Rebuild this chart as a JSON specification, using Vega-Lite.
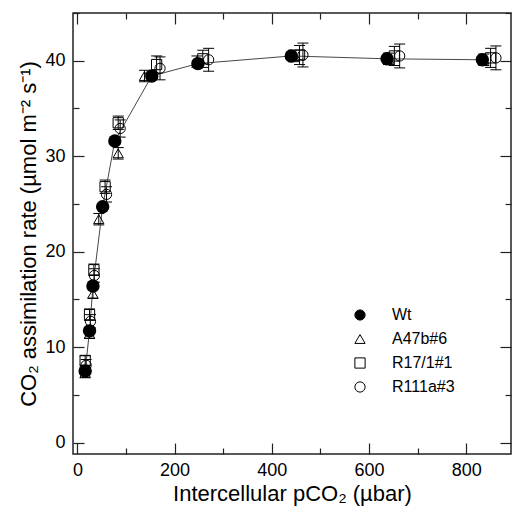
{
  "$schema": "https://vega.github.io/schema/vega-lite/v6.json",
  "width": 438,
  "height": 441,
  "autosize": "none",
  "padding": {"left": 73, "top": 13, "right": 2, "bottom": 60},
  "background": "white",
  "config": {
    "font": "Liberation Sans",
    "view": {"stroke": "#222", "strokeWidth": 1.5},
    "axis": {"grid": false, "domain": false, "tickColor": "#222", "tickWidth": 1.2, "labelColor": "black", "titleColor": "black", "titleFontWeight": "normal"}
  },
  "datasets": {
    "pts": [
      {"series": "Wt", "x": 16, "y": 7.5},
      {"series": "Wt", "x": 25, "y": 11.7},
      {"series": "Wt", "x": 32, "y": 16.4},
      {"series": "Wt", "x": 52, "y": 24.7},
      {"series": "Wt", "x": 77, "y": 31.6},
      {"series": "Wt", "x": 153, "y": 38.4},
      {"series": "Wt", "x": 248, "y": 39.7},
      {"series": "Wt", "x": 440, "y": 40.5},
      {"series": "Wt", "x": 637, "y": 40.2},
      {"series": "Wt", "x": 833, "y": 40.1},
      {"series": "A47b#6", "x": 16, "y": 7.3, "lo": 6.8, "hi": 7.8},
      {"series": "A47b#6", "x": 25, "y": 11.4, "lo": 10.9, "hi": 11.9},
      {"series": "A47b#6", "x": 32, "y": 15.6, "lo": 15.1, "hi": 16.1},
      {"series": "A47b#6", "x": 44, "y": 23.4, "lo": 22.8, "hi": 24.0},
      {"series": "A47b#6", "x": 84, "y": 30.3, "lo": 29.7, "hi": 30.9},
      {"series": "A47b#6", "x": 138, "y": 38.4, "lo": 37.8, "hi": 39.0},
      {"series": "A47b#6", "x": 246, "y": 39.9, "lo": 39.3, "hi": 40.5},
      {"series": "A47b#6", "x": 445, "y": 40.5, "lo": 39.9, "hi": 41.1},
      {"series": "A47b#6", "x": 640, "y": 40.2, "lo": 39.6, "hi": 40.8},
      {"series": "A47b#6", "x": 836, "y": 40.1, "lo": 39.5, "hi": 40.7},
      {"series": "R17/1#1", "x": 16, "y": 8.6, "lo": 8.1, "hi": 9.1},
      {"series": "R17/1#1", "x": 25, "y": 13.4, "lo": 12.8, "hi": 14.0},
      {"series": "R17/1#1", "x": 34, "y": 18.1, "lo": 17.5, "hi": 18.7},
      {"series": "R17/1#1", "x": 57, "y": 26.8, "lo": 26.1, "hi": 27.5},
      {"series": "R17/1#1", "x": 84, "y": 33.5, "lo": 32.8, "hi": 34.2},
      {"series": "R17/1#1", "x": 163, "y": 39.6, "lo": 38.7, "hi": 40.5},
      {"series": "R17/1#1", "x": 258, "y": 40.2, "lo": 39.3, "hi": 41.1},
      {"series": "R17/1#1", "x": 457, "y": 40.6, "lo": 39.6, "hi": 41.6},
      {"series": "R17/1#1", "x": 652, "y": 40.5, "lo": 39.5, "hi": 41.5},
      {"series": "R17/1#1", "x": 850, "y": 40.3, "lo": 39.3, "hi": 41.3},
      {"series": "R111a#3", "x": 18, "y": 8.1, "lo": 7.5, "hi": 8.7},
      {"series": "R111a#3", "x": 27, "y": 12.7, "lo": 12.0, "hi": 13.4},
      {"series": "R111a#3", "x": 35, "y": 17.5, "lo": 16.8, "hi": 18.2},
      {"series": "R111a#3", "x": 60, "y": 26.0, "lo": 25.2, "hi": 26.8},
      {"series": "R111a#3", "x": 88, "y": 32.9, "lo": 32.0, "hi": 33.8},
      {"series": "R111a#3", "x": 170, "y": 39.2, "lo": 38.0, "hi": 40.4},
      {"series": "R111a#3", "x": 270, "y": 40.1, "lo": 38.9, "hi": 41.3},
      {"series": "R111a#3", "x": 464, "y": 40.6, "lo": 39.35, "hi": 41.85},
      {"series": "R111a#3", "x": 663, "y": 40.5, "lo": 39.25, "hi": 41.75},
      {"series": "R111a#3", "x": 861, "y": 40.3, "lo": 39.05, "hi": 41.55}
    ]
  },
  "data": {"name": "pts"},
  "layer": [
    {
      "mark": {"type": "point", "opacity": 0},
      "encoding": {
        "x": {"field": "x", "type": "quantitative", "scale": {"domain": [-9, 892], "nice": false, "zero": false},
          "axis": {"orient": "bottom", "values": [0, 200, 400, 600, 800], "labels": false, "title": null, "tickSize": -11}},
        "y": {"field": "y", "type": "quantitative", "scale": {"domain": [-1.2, 45], "nice": false, "zero": false},
          "axis": {"orient": "left", "values": [0, 10, 20, 30, 40], "labels": false, "title": null, "tickSize": -11}}
      }
    },
    {
      "mark": {"type": "point", "opacity": 0},
      "encoding": {
        "x": {"field": "x", "type": "quantitative",
          "axis": {"orient": "bottom", "values": [100, 300, 500, 700], "labels": false, "title": null, "tickSize": -6}},
        "y": {"field": "y", "type": "quantitative",
          "axis": {"orient": "left", "values": [5, 15, 25, 35, 45], "labels": false, "title": null, "tickSize": -6}}
      }
    },
    {
      "mark": {"type": "point", "opacity": 0},
      "encoding": {
        "x": {"field": "x", "type": "quantitative",
          "axis": {"orient": "top", "values": [0, 200, 400, 600, 800], "labels": false, "title": null, "tickSize": -11}},
        "y": {"field": "y", "type": "quantitative",
          "axis": {"orient": "right", "values": [0, 10, 20, 30, 40], "labels": false, "title": null, "tickSize": -11}}
      }
    },
    {
      "mark": {"type": "point", "opacity": 0},
      "encoding": {
        "x": {"field": "x", "type": "quantitative",
          "axis": {"orient": "top", "values": [100, 300, 500, 700], "labels": false, "title": null, "tickSize": -6}},
        "y": {"field": "y", "type": "quantitative",
          "axis": {"orient": "right", "values": [5, 15, 25, 35, 45], "labels": false, "title": null, "tickSize": -6}}
      }
    },
    {
      "transform": [{"filter": "datum.lo != null"}],
      "mark": {"type": "rule", "color": "black", "strokeWidth": 1},
      "encoding": {
        "x": {"field": "x", "type": "quantitative", "axis": null},
        "y": {"field": "lo", "type": "quantitative", "axis": null},
        "y2": {"field": "hi"}
      }
    },
    {
      "transform": [{"filter": "datum.lo != null"}],
      "mark": {"type": "tick", "orient": "horizontal", "size": 11, "thickness": 1, "color": "black", "opacity": 1},
      "encoding": {
        "x": {"field": "x", "type": "quantitative", "axis": null},
        "y": {"field": "lo", "type": "quantitative", "axis": null}
      }
    },
    {
      "transform": [{"filter": "datum.lo != null"}],
      "mark": {"type": "tick", "orient": "horizontal", "size": 11, "thickness": 1, "color": "black", "opacity": 1},
      "encoding": {
        "x": {"field": "x", "type": "quantitative", "axis": null},
        "y": {"field": "hi", "type": "quantitative", "axis": null}
      }
    },
    {
      "transform": [{"filter": "datum.series === 'Wt'"}],
      "mark": {"type": "line", "color": "#333", "strokeWidth": 0.9},
      "encoding": {
        "x": {"field": "x", "type": "quantitative", "axis": null},
        "y": {"field": "y", "type": "quantitative", "axis": null},
        "order": {"field": "x"}
      }
    },
    {
      "transform": [{"filter": "datum.series === 'Wt'"}],
      "mark": {"type": "point", "shape": "circle", "filled": true, "color": "black", "size": 180, "opacity": 1},
      "encoding": {
        "x": {"field": "x", "type": "quantitative", "axis": null},
        "y": {"field": "y", "type": "quantitative", "axis": null}
      }
    },
    {
      "transform": [{"filter": "datum.series !== 'Wt'"}],
      "mark": {"type": "point", "stroke": "black", "strokeWidth": 1, "opacity": 1},
      "encoding": {
        "x": {"field": "x", "type": "quantitative",
          "axis": {"orient": "bottom", "values": [0, 200, 400, 600, 800], "ticks": false,
            "labelFontSize": 18, "labelPadding": 7, "title": "Intercellular pCO₂ (µbar)", "titleFontSize": 22, "titlePadding": 4}},
        "y": {"field": "y", "type": "quantitative",
          "axis": {"orient": "left", "values": [0, 10, 20, 30, 40], "ticks": false,
            "labelFontSize": 18, "labelPadding": 8, "title": "CO₂ assimilation rate (µmol m⁻² s⁻¹)", "titleFontSize": 22, "titlePadding": 4}},
        "shape": {"field": "series", "type": "nominal",
          "scale": {"domain": ["Wt", "A47b#6", "R17/1#1", "R111a#3"], "range": ["circle", "triangle-up", "square", "circle"]},
          "legend": {"title": null, "orient": "none", "legendX": 279, "legendY": 294, "labelFontSize": 16, "labelOffset": 24,
            "symbolStrokeColor": "black", "symbolStrokeWidth": 1, "rowPadding": 8}},
        "fill": {"field": "series", "type": "nominal",
          "scale": {"domain": ["Wt", "A47b#6", "R17/1#1", "R111a#3"], "range": ["black", "transparent", "transparent", "transparent"]}},
        "size": {"field": "series", "type": "nominal",
          "scale": {"domain": ["Wt", "A47b#6", "R17/1#1", "R111a#3"], "range": [105, 105]}}
      }
    }
  ],
  "resolve": {"axis": {"x": "independent", "y": "independent"}}
}
